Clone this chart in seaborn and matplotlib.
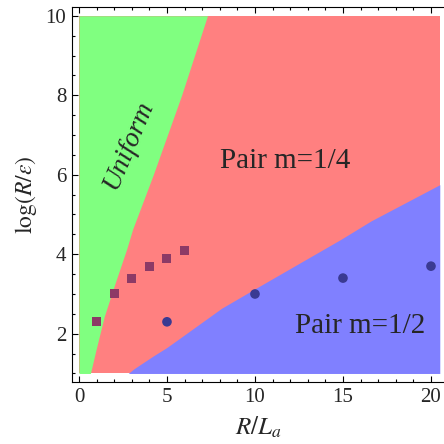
import numpy as np
import pandas as pd
import matplotlib
matplotlib.use("Agg")
import matplotlib.pyplot as plt
from matplotlib.ticker import MultipleLocator
import seaborn as sns

# ---- data ----
# Uniform / Pair m=1/4 boundary (x as a function of y)
gr_y = [1.0, 1.6, 2.44, 3.28, 4.13, 4.63, 6.0, 8.0, 10.0]
gr_x = [0.65, 0.97, 1.44, 2.06, 2.71, 3.05, 4.22, 5.83, 7.3]
# Pair m=1/4 / Pair m=1/2 boundary
rb_x = [2.8, 3.1, 3.47, 4.22, 4.98, 5.74, 8.1, 10.0, 14.9, 16.6, 20.5]
rb_y = [1.0, 1.11, 1.22, 1.44, 1.65, 1.89, 2.64, 3.13, 4.38, 4.84, 5.75]
# region extent
x_range = [0.0, 20.5]
y_low, y_high = 1.0, 10.0
# data points
sq_x = [1, 2, 3, 4, 5, 6]
sq_y = [2.3, 3.0, 3.4, 3.7, 3.9, 4.1]
ci_x = [5, 10, 15, 20]
ci_y = [2.3, 3.0, 3.4, 3.7]

green = "#80ff80"
red = "#ff8080"
blue = "#8080ff"
sq_color = "#8c3a66"
ci_color = "#3a3a92"

sns.set_theme(style="white")
plt.rcParams["font.family"] = ["Liberation Serif", "DejaVu Serif"]
plt.rcParams["mathtext.fontset"] = "stix"

fig = plt.figure(figsize=(4.44, 4.44), dpi=100)
ax = fig.add_axes([0.162, 0.1396, 0.838, 0.8446])

ax.fill_between(x_range, y_low, y_high, color=red, lw=0, zorder=1)
ax.fill_betweenx(gr_y, 0, gr_x, color=green, lw=0, zorder=2)
ax.fill_between(rb_x, y_low, rb_y, color=blue, lw=0, zorder=2)

sq_df = pd.DataFrame({"x": sq_x, "y": sq_y})
ci_df = pd.DataFrame({"x": ci_x, "y": ci_y})
sns.scatterplot(data=sq_df, x="x", y="y", marker="s", s=42, color=sq_color,
                edgecolor="none", ax=ax, zorder=5)
sns.scatterplot(data=ci_df, x="x", y="y", marker="o", s=48, color=ci_color,
                edgecolor="none", ax=ax, zorder=5)

ax.text(2.78, 6.76, "Uniform", rotation=67, fontsize=20, fontstyle="italic",
        ha="center", va="center", zorder=6)
ax.text(11.7, 6.35, "Pair m=1/4", fontsize=21, ha="center", va="center", zorder=6)
ax.text(16.0, 2.2, "Pair m=1/2", fontsize=21, ha="center", va="center", zorder=6)

ax.set_xlim(-0.4, 20.74)
ax.set_ylim(0.785, 10.22)
ax.set_xticks([0, 5, 10, 15, 20])
ax.set_yticks([2, 4, 6, 8, 10])
ax.xaxis.set_minor_locator(MultipleLocator(1))
ax.yaxis.set_minor_locator(MultipleLocator(0.5))
ax.tick_params(which="both", direction="in", top=True, bottom=True, left=True,
               right=False, labeltop=False, labelright=False, color="black",
               width=0.8)
ax.tick_params(which="major", length=4.5, labelsize=15, pad=4)
ax.tick_params(which="minor", length=2)

for side in ["left", "bottom", "top"]:
    ax.spines[side].set_visible(True)
    ax.spines[side].set_color("black")
    ax.spines[side].set_linewidth(0.8)
ax.spines["right"].set_visible(False)

ax.set_xlabel(r"$R/L_a$", fontsize=18, labelpad=6)
ax.set_ylabel(r"$\log(R/\varepsilon)$", fontsize=17, labelpad=5)
ax.grid(False)

fig.savefig("out.png", dpi=100)
